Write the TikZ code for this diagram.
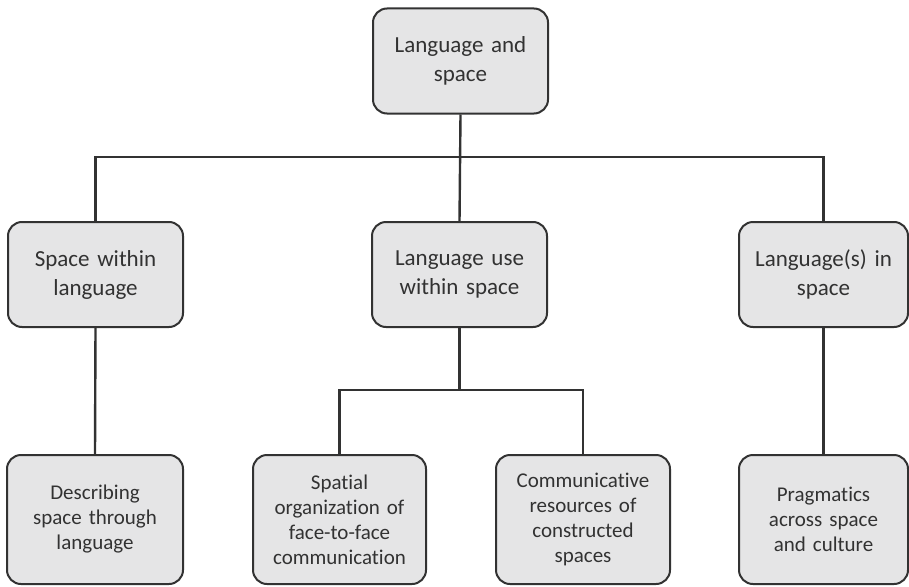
\documentclass[tikz,border=0pt]{standalone}
\usepackage{fontspec}
\setmainfont{Carlito}[Ligatures=NoCommon]
\usetikzlibrary{calc}
\definecolor{boxfill}{RGB}{229,229,230}
\definecolor{boxline}{RGB}{50,50,50}

\begin{document}
\begin{tikzpicture}[x=1pt, y=-1pt,
        topic/.style={draw=boxline, line width=2pt, fill=boxfill, rounded corners=14pt,
            minimum width=175pt, minimum height=105pt, text width=168pt, inner sep=0pt,
            align=center, text=boxline, font=\fontsize{23}{29}\selectfont},
        subtopic/.style={topic, minimum height=129pt, font=\fontsize{21}{25}\selectfont},
        link/.style={draw=boxline, line width=2.4pt}]
        \useasboundingbox (0,0) rectangle (909,586);

        % levels
        \node[topic] (root) at (460.5,61) {Language and\\space};
        \node[topic] (within) at (95.5,274.5) {Space within\\language};
        \node[topic] (use) at (459.5,274.5) {Language use\\within space};
        \node[topic, minimum width=169pt] (inspace) at (823.5,274.5) {Language(s) in\\space};

        \node[subtopic, minimum width=176pt] (describing) at (95,519.5) {Describing\\space through\\language};
        \node[subtopic, minimum width=173pt] (spatial) at (339.5,519.5) {Spatial\\organization of\\face-to-face\\communication};
        \node[subtopic, minimum width=174pt] (resources) at (583,519.5) {Communicative\\resources of\\constructed\\spaces};
        \node[subtopic, minimum width=169pt] (pragmatics) at (823.5,519.5) {Pragmatics\\across space\\and culture};

        % bars
        \coordinate (bar) at (0,157);
        \coordinate (subbar) at (0,390);

        \draw[link] (root.south) -- (use.north);
        \draw[link] (within.north) -- (within.north |- bar) -- (inspace.north |- bar) -- (inspace.north);
        \draw[link] (within.south) -- (describing.north);
        \draw[link] (inspace.south) -- (pragmatics.north);
        \draw[link] (use.south) -- (use.south |- subbar);
        \draw[link] (spatial.north) -- (spatial.north |- subbar) -- (resources.north |- subbar) -- (resources.north);
\end{tikzpicture}
\end{document}
